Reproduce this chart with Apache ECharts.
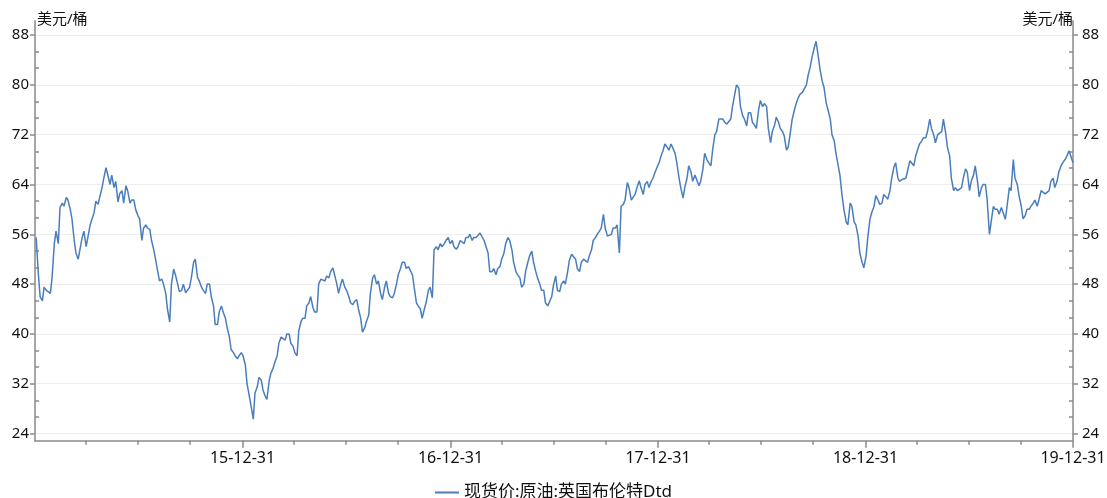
<!DOCTYPE html>
<html><head><meta charset="utf-8">
<script src="https://cdn.jsdelivr.net/npm/echarts@6/dist/echarts.min.js"></script>
<style>html,body{margin:0;padding:0;background:#fff}#c{width:1107px;height:498px}</style>
</head><body><div id="c"></div>
<script>
const seriesName = '现货价:原油:英国布伦特Dtd';
const unitLabel = '美元/桶';
const firstWeek = '2015-01-02';   // Friday samples start here; Tuesday samples sit 3 days before each Friday
const lastDate = '2019-12-31';
const lastPrice = 67.5;

// Friday readings
const price2015 = [55.5,46.0,47.5,46.8,49.0,56.5,60.3,60.5,61.5,58.5,53.0,53.5,56.5,55.5,57.5,61.3,62.0,65.0,66.5,65.5,64.5,62.5,61.0,63.0,61.5,60.0,58.5,57.0,57.0,55.0,52.0,48.5,48.0,44.0,48.0,49.5,46.8,48.0,47.0,49.0,52.0,48.5,47.0,48.0,46.0,41.5,43.5,43.5,41.0,37.5,36.5,36.5];
const price2016 = [36.5,32.0,28.5,30.5,33.0,31.0,29.5,33.7,35.5,38.5,39.5,40.0,38.5,37.0,40.5,42.5,44.5,46.0,43.5,48.0,48.5,49.3,50.0,49.5,46.5,48.8,47.0,45.0,45.2,44.0,40.3,42.0,46.5,49.5,48.5,45.5,48.5,46.0,46.5,49.5,51.5,50.5,51.0,47.5,44.5,42.5,45.0,47.5,53.5,53.5,54.0,55.0,54.5];
const price2017 = [54.0,54.0,55.0,55.5,56.0,55.5,55.5,56.0,55.0,50.0,50.5,50.5,52.0,54.5,55.0,51.5,49.5,47.5,50.0,52.5,51.5,49.0,47.0,45.0,44.8,47.8,47.0,48.0,48.0,51.8,52.5,50.5,51.5,52.0,52.5,55.0,56.0,57.0,57.0,55.5,57.0,57.5,60.5,61.5,63.5,61.8,63.5,63.5,64.0,63.5,65.0,66.7];
const price2018 = [68.5,70.5,69.5,70.5,67.5,63.5,63.5,67.0,64.5,65.5,64.5,69.0,67.5,69.5,72.5,74.5,74.0,74.0,76.5,80.0,76.5,74.5,75.5,74.0,73.0,77.5,77.0,73.0,72.5,74.8,73.0,71.8,70.0,74.5,77.0,78.5,78.5,81.5,84.5,87.0,82.5,79.6,76.0,72.0,69.0,65.5,60.0,57.5,60.5,57.5,53.0,50.6];
const price2019 = [55.5,59.5,62.2,60.8,62.4,61.6,65.0,67.5,64.5,64.5,66.2,67.5,68.5,70.5,71.5,72.5,73.0,70.7,72.0,74.5,70.0,65.0,63.5,62.7,65.0,66.0,64.5,67.0,62.0,64.0,61.5,58.0,60.0,59.2,60.0,60.5,63.0,65.0,62.2,58.5,60.0,60.5,61.5,61.5,63.0,62.5,64.5,63.5,66.0,67.5,68.5,69.5];
// Tuesday readings (same weeks)
const mid2015 = [null,49.5,45.3,47.0,46.5,54.5,54.5,61.0,61.9,60.0,55.0,52.0,55.5,54.0,57.5,59.5,60.8,63.5,66.7,64.0,63.5,61.2,63.0,63.8,61.0,61.5,59.0,55.0,57.5,56.8,53.5,50.0,48.8,46.5,41.9,50.4,48.0,47.0,46.6,47.5,51.5,49.0,47.5,46.5,48.0,44.5,41.5,44.5,42.5,39.5,37.0,36.0];
const mid2016 = [37.0,35.0,30.0,26.3,31.5,32.6,30.0,32.5,34.5,36.5,39.5,39.0,40.0,38.0,36.5,42.0,42.5,45.0,44.2,43.5,48.8,48.5,49.0,50.6,48.0,48.0,47.5,46.0,44.7,45.5,42.5,41.0,43.0,49.0,48.0,46.5,47.5,46.5,45.8,48.0,50.5,51.5,50.8,49.5,45.0,44.0,44.0,47.0,45.8,54.0,54.5,54.5,55.5];
const mid2017 = [55.0,53.6,55.0,54.5,55.5,55.0,55.5,56.2,55.0,53.0,50.0,49.5,50.8,53.0,55.5,53.5,50.0,49.0,48.0,51.5,53.3,50.0,48.0,47.0,44.5,46.0,49.3,46.8,48.5,50.0,52.8,52.0,50.0,52.0,51.5,53.5,55.5,56.5,59.2,55.7,56.0,57.0,53.0,60.8,64.3,61.5,62.5,64.6,62.4,64.5,64.5,66.0];
const mid2018 = [67.5,69.5,70.0,70.5,69.0,65.0,61.8,65.0,66.0,65.5,63.8,66.5,68.0,67.0,72.0,74.5,74.5,73.7,74.5,78.5,79.5,75.0,73.4,75.5,73.5,76.0,76.5,76.5,70.7,73.5,74.0,72.5,69.5,72.5,76.0,78.0,78.8,80.0,83.0,86.0,84.5,80.5,77.0,74.5,71.0,67.0,62.0,58.0,61.0,58.0,55.7,51.5];
const mid2019 = [52.5,58.5,60.5,61.5,61.0,62.0,63.0,66.8,65.0,64.8,65.0,67.8,67.0,69.7,71.0,71.5,74.5,72.0,72.0,72.5,72.3,68.6,63.0,63.0,63.5,66.5,63.0,65.5,64.5,63.5,64.0,56.0,60.5,60.0,60.3,58.4,63.5,68.0,64.0,60.5,59.0,60.0,61.0,60.5,63.0,62.5,63.0,65.0,64.5,67.0,68.0,69.4];

const yTickLabels = [24,32,40,48,56,64,72,80,88];
const xTickLabels = ['2015-12-31','2016-12-31','2017-12-31','2018-12-31','2019-12-31'];
const xQuarterTicks = ['2015-03-31','2015-06-30','2015-09-30','2016-03-31','2016-06-30','2016-09-30',
  '2017-03-31','2017-06-30','2017-09-30','2018-03-31','2018-06-30','2018-09-30',
  '2019-03-31','2019-06-30','2019-09-30'];
const xStart = '2014-12-31';

function ts(s){ const p = s.split('-').map(Number); return Date.UTC(p[0], p[1]-1, p[2]); }
const DAY = 86400000;
const fridays = [].concat(price2015, price2016, price2017, price2018, price2019);
const tuesdays = [].concat(mid2015, mid2016, mid2017, mid2018, mid2019);
const data = [];
fridays.forEach((v, i) => {
  const fri = ts(firstWeek) + i*7*DAY;
  if (tuesdays[i] != null) data.push([fri - 3*DAY, tuesdays[i]]);
  data.push([fri, v]);
});
data.push([ts(lastDate), lastPrice]);

const yMin = 22.85, yMax = 90.3;
const yMinor = [];
for (let i = 0; i < yTickLabels.length - 1; i++) {
  const a = yTickLabels[i], step = (yTickLabels[i+1]-a)/3;
  yMinor.push(a + step, a + 2*step);
}

const axisColor = '#8a8a8a';
const font = '"Noto Sans", "Noto Sans CJK SC", sans-serif';
const labelStyle = { color: '#111', fontSize: 15, fontFamily: font };
function fmt(v){ const d = new Date(v); const p = n => String(n).padStart(2,'0');
  return p(d.getUTCFullYear()%100) + '-' + p(d.getUTCMonth()+1) + '-' + p(d.getUTCDate()); }

const chart = echarts.init(document.getElementById('c'), null, {renderer:'canvas'});
const yMain = (pos, margin, split) => ({
  type:'value', position:pos, min:yMin, max:yMax,
  axisLine:{show:true, lineStyle:{color:axisColor, width:1.5}},
  axisTick:{show:true, customValues:yTickLabels, length:5, lineStyle:{color:axisColor, width:1.5}},
  axisLabel:Object.assign({customValues:yTickLabels, margin:margin}, labelStyle),
  splitLine:{show:split, lineStyle:{color:'#ededed', width:1}}
});
const yMinorAxis = (pos) => ({
  type:'value', position:pos, min:yMin, max:yMax,
  axisLine:{show:false},
  axisTick:{show:true, inside:true, customValues:yMinor, length:4, lineStyle:{color:axisColor, width:1.5}},
  axisLabel:{show:false}, splitLine:{show:false}
});
chart.setOption({
  animation:false,
  backgroundColor:'#fff',
  grid:{left:35, right:34, top:20.7, bottom:57.3, containLabel:false, outerBoundsMode:'none'},
  graphic:[
    {type:'text', left:37, top:12, style:{text:unitLabel, fontSize:15, fontFamily:font, fill:'#111'}},
    {type:'text', right:34, top:12, style:{text:unitLabel, fontSize:15, fontFamily:font, fill:'#111'}}
  ],
  legend:{
    data:[{name:seriesName, icon:'rect'}],
    left:'center', top:479, itemWidth:24, itemHeight:2, itemGap:10,
    textStyle:{color:'#111', fontSize:17, fontFamily:font}
  },
  xAxis:[
    {type:'value', position:'bottom', min:ts(xStart), max:ts(lastDate),
     axisLine:{show:true, lineStyle:{color:axisColor, width:1.5}},
     axisTick:{show:true, customValues:xTickLabels.map(ts), length:7, lineStyle:{color:axisColor, width:1.5}},
     axisLabel:Object.assign({}, labelStyle, {customValues:xTickLabels.map(ts), formatter:fmt, margin:10, fontSize:16, showMaxLabel:true}),
     splitLine:{show:false}},
    {type:'value', position:'bottom', offset:0, min:ts(xStart), max:ts(lastDate),
     axisLine:{show:false},
     axisTick:{show:true, customValues:xQuarterTicks.map(ts), length:4, lineStyle:{color:axisColor, width:1.5}},
     axisLabel:{show:false}, splitLine:{show:false}}
  ],
  yAxis:[ yMain('left', 6, true), yMinorAxis('left'), yMain('right', 9, false), yMinorAxis('right') ],
  series:[{
    name:seriesName, type:'line', xAxisIndex:0, yAxisIndex:0,
    data:data, symbol:'none', showSymbol:false,
    lineStyle:{color:'#4a7ebb', width:1.5}, itemStyle:{color:'#4a7ebb'}
  }]
});
</script></body></html>
